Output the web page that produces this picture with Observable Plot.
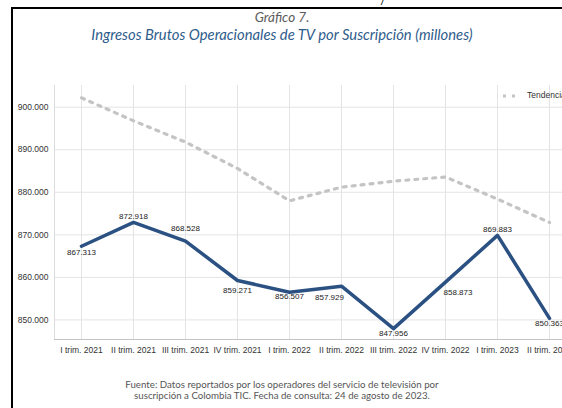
<!DOCTYPE html>
<html>
<head>
<meta charset="utf-8">
<script src="https://cdn.jsdelivr.net/npm/d3@7"></script>
<script src="https://cdn.jsdelivr.net/npm/@observablehq/plot@0.6"></script>
<style>
  html, body { margin: 0; padding: 0; background: #fff; }
  #wrap { position: relative; width: 562px; height: 408px; overflow: hidden; background: #fff; }
  #border { position: absolute; left: 11px; top: 7px; width: 700px; height: 500px;
            border-left: 2px solid #000; border-top: 2px solid #000; box-sizing: border-box; }
  #chart { position: absolute; left: 0; top: 0; width: 600px; height: 408px; }
  #chart svg { max-width: none !important; }
  .t { position: absolute; left: 2px; width: 560px; text-align: center; font-family: Lato, "Open Sans", sans-serif; white-space: nowrap; }
  #title { top: 9.5px; font-size: 13.5px; line-height: 14px; font-style: italic; color: #5a5a5a; }
  #subtitle { top: 27px; font-size: 14.8px; line-height: 15px; font-style: italic; color: #2f5d8c; }
  #caption { top: 379px; font-size: 9.7px; color: #555; line-height: 11px; }
  #legend { position: absolute; left: 502px; top: 90px; font-family: "Liberation Sans", Arial, sans-serif; font-size: 8.5px; color: #333; white-space: nowrap; }
  #legend svg { vertical-align: middle; margin-right: 9px; }
  #mark { position: absolute; left: 381px; top: -1px; font-family: "Liberation Sans", Arial, sans-serif; font-size: 7px; line-height: 7px; color: #000; font-style: italic; font-weight: bold; }
</style>
</head>
<body>
<div id="wrap">
  <div id="border"></div>
  <div id="mark">/</div>
  <div id="chart"></div>
  <div class="t" id="title">Gráfico 7.</div>
  <div class="t" id="subtitle">Ingresos Brutos Operacionales de TV por Suscripción (millones)</div>
  <div id="legend"><svg width="16" height="6"><line x1="1" y1="3" x2="16" y2="3" stroke="#c4c4c4" stroke-width="3" stroke-dasharray="3,6"/></svg>Tendencia</div>
  <div class="t" id="caption">Fuente: Datos reportados por los operadores del servicio de televisión por<br>suscripción a Colombia TIC. Fecha de consulta: 24 de agosto de 2023.</div>
</div>
<script>
const quarters = ["I trim. 2021", "II trim. 2021", "III trim. 2021", "IV trim. 2021",
  "I trim. 2022", "II trim. 2022", "III trim. 2022", "IV trim. 2022", "I trim. 2023", "II trim. 2023"];
const ingresos = [867313, 872918, 868528, 859271, 856507, 857929, 847956, 858873, 869883, 850363];
const tendencia = [902200, 896800, 891800, 885600, 878000, 881200, 882600, 883600, 878400, 872900];
const yTicks = [850000, 860000, 870000, 880000, 890000, 900000];

const locale = d3.formatLocale({decimal: ",", thousands: ".", grouping: [3], currency: ["$", ""]});
const fmt = locale.format(",");

const data = quarters.map((q, i) => ({q, v: ingresos[i], t: tendencia[i]}));

// label placement (offsets from each point)
const placement = [
  {dx: 0, dy: 6}, {dx: 0, dy: -6}, {dx: 0, dy: -13}, {dx: 0, dy: 9.5}, {dx: 0, dy: 4.5},
  {dx: -12, dy: 11}, {dx: 0, dy: 5}, {dx: 12.5, dy: 10.7}, {dx: 0, dy: -6}, {dx: 0, dy: 5}
];

const labelMarks = data.map((d, i) => Plot.text([d], {
  x: "q", y: "v", text: (e) => fmt(e.v), dx: placement[i].dx, dy: placement[i].dy,
  fontSize: 8, fill: "#222"
}));

const chart = Plot.plot({
  width: 600, height: 408,
  marginLeft: 54, marginRight: 22, marginTop: 85, marginBottom: 69,
  style: {fontFamily: "'Liberation Sans', Arial, sans-serif", fontSize: "8.5px", color: "#333", background: "transparent", overflow: "visible", maxWidth: "none"},
  x: {type: "point", domain: quarters, range: [78, 552], padding: 0, label: null},
  y: {domain: [845400, 905100], label: null},
  marks: [
    Plot.gridY(yTicks, {stroke: "#e4e4e4", strokeOpacity: 1}),
    Plot.gridX(quarters, {stroke: "#e4e4e4", strokeOpacity: 1}),
    Plot.frame({anchor: "left", stroke: "#dcdcdc"}),
    Plot.frame({anchor: "bottom", stroke: "#c4c4c4"}),
    Plot.axisY(yTicks, {tickSize: 0, tickPadding: 6, tickFormat: fmt, fontSize: 8.5, fill: "#333"}),
    Plot.axisX(quarters, {tickSize: 0, tickPadding: 7, fontSize: 8.5, fill: "#333"}),
    Plot.line(data, {x: "q", y: "t", stroke: "#c4c4c4", strokeWidth: 3.2, strokeDasharray: "3,6"}),
    Plot.line(data, {x: "q", y: "v", stroke: "#2b5183", strokeWidth: 3.5}),
    ...labelMarks
  ]
});
document.getElementById("chart").appendChild(chart);
</script>
</body>
</html>
